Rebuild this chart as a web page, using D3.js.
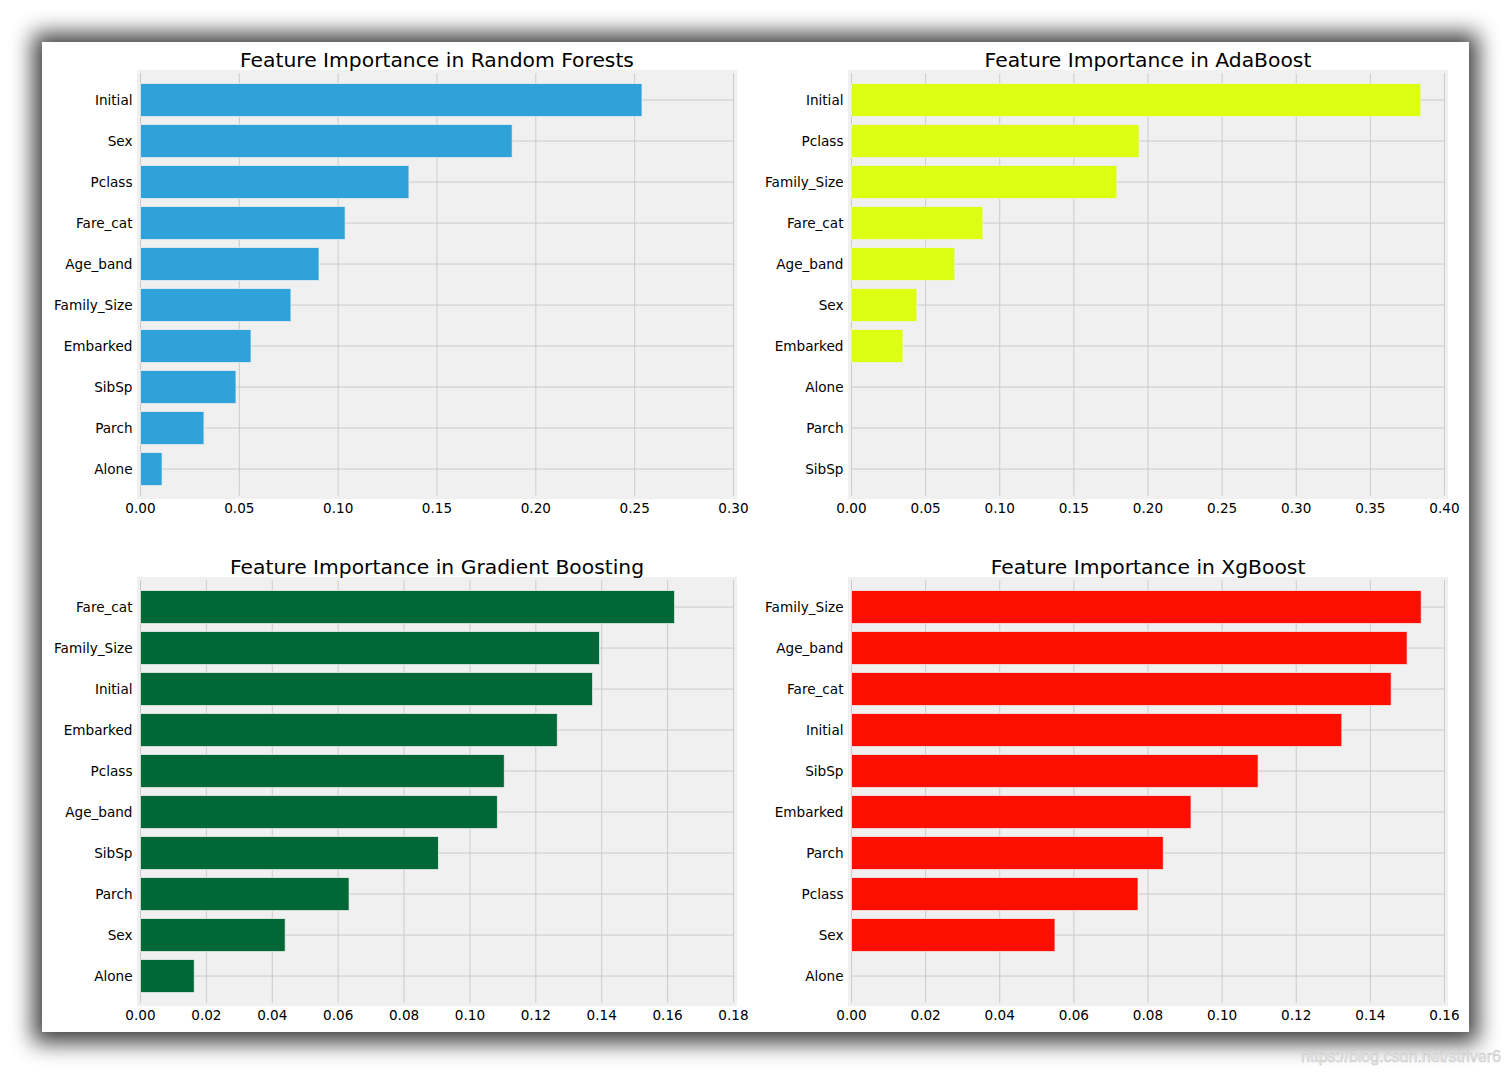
<!DOCTYPE html>
<html>
<head>
<meta charset="utf-8">
<script src="https://cdn.jsdelivr.net/npm/d3@7"></script>
<style>
  body { margin: 0; background: #ffffff; }
  svg { display: block; }
</style>
</head>
<body>
<script>
// feature importances (top bar first)
const rfFeatures = ['Initial', 'Sex', 'Pclass', 'Fare_cat', 'Age_band', 'Family_Size', 'Embarked', 'SibSp', 'Parch', 'Alone'];
const rfValues = [0.2537, 0.188, 0.1358, 0.1035, 0.0903, 0.0761, 0.0559, 0.0483, 0.0321, 0.0109];

const adaFeatures = ['Initial', 'Pclass', 'Family_Size', 'Fare_cat', 'Age_band', 'Sex', 'Embarked', 'Alone', 'Parch', 'SibSp'];
const adaValues = [0.384, 0.194, 0.179, 0.0886, 0.0697, 0.0441, 0.0347, 0, 0, 0];

const gbFeatures = ['Fare_cat', 'Family_Size', 'Initial', 'Embarked', 'Pclass', 'Age_band', 'SibSp', 'Parch', 'Sex', 'Alone'];
const gbValues = [0.1621, 0.1393, 0.1372, 0.1265, 0.1104, 0.1083, 0.0904, 0.0633, 0.0439, 0.0163];

const xgbFeatures = ['Family_Size', 'Age_band', 'Fare_cat', 'Initial', 'SibSp', 'Embarked', 'Parch', 'Pclass', 'Sex', 'Alone'];
const xgbValues = [0.1537, 0.1499, 0.1456, 0.1323, 0.1097, 0.0916, 0.0841, 0.0773, 0.0549, 0];

const rfTicks = [0, 0.05, 0.10, 0.15, 0.20, 0.25, 0.30];
const adaTicks = [0, 0.05, 0.10, 0.15, 0.20, 0.25, 0.30, 0.35, 0.40];
const gbTicks = [0, 0.02, 0.04, 0.06, 0.08, 0.10, 0.12, 0.14, 0.16, 0.18];
const xgbTicks = [0, 0.02, 0.04, 0.06, 0.08, 0.10, 0.12, 0.14, 0.16];

const width = 1511, height = 1075;

let svg = d3
  .select('body')
  .append('svg')
  .attr('width', width)
  .attr('height', height)
  .style('background-color', '#ffffff');

// shadow behind the card
const defs = svg.append('defs');
defs
  .append('filter')
  .attr('id', 'shadow')
  .attr('x', '-10%')
  .attr('y', '-10%')
  .attr('width', '120%')
  .attr('height', '120%')
  .append('feGaussianBlur')
  .attr('stdDeviation', 11);

svg
  .append('rect')
  .attr('x', 33)
  .attr('y', 33)
  .attr('width', 1445)
  .attr('height', 1010)
  .attr('fill', '#000')
  .attr('opacity', 0.75)
  .attr('filter', 'url(#shadow)');

svg
  .append('rect')
  .attr('x', 42)
  .attr('y', 42)
  .attr('width', 1427)
  .attr('height', 990)
  .attr('fill', '#ffffff');

const panels = [
  { title: 'Feature Importance in Random Forests', features: rfFeatures, values: rfValues, ticks: rfTicks, color: '#30a2da', x: 140.5, y: 73.4 },
  { title: 'Feature Importance in AdaBoost', features: adaFeatures, values: adaValues, ticks: adaTicks, color: '#ddff11', x: 851.5, y: 73.4 },
  { title: 'Feature Importance in Gradient Boosting', features: gbFeatures, values: gbValues, ticks: gbTicks, color: '#006837', x: 140.5, y: 580.4 },
  { title: 'Feature Importance in XgBoost', features: xgbFeatures, values: xgbValues, ticks: xgbTicks, color: '#fd0f00', x: 851.5, y: 580.4 }
];

const pw = 593, ph = 422.3;
const font = "'DejaVu Sans', sans-serif";

panels.forEach(function (p) {
  const g = svg.append('g').attr('transform', 'translate(' + p.x + ',' + p.y + ')');

  const x = d3.scaleLinear().domain([0, p.ticks[p.ticks.length - 1]]).range([0, pw]);
  // pandas barh: positions 0..9 bottom-up, limits -0.65 .. 9.65
  const y = d3.scaleLinear().domain([-0.65, 9.65]).range([ph, 0]);
  const n = p.features.length;
  const pos = (i) => n - 1 - i;

  // axes face (thick spine in face colour)
  g.append('rect')
    .attr('x', -3.5)
    .attr('y', -3.5)
    .attr('width', pw + 7)
    .attr('height', ph + 7)
    .attr('fill', '#f0f0f0');

  // grid
  g.append('g')
    .selectAll('line')
    .data(p.ticks)
    .enter()
    .append('line')
    .attr('x1', (d) => x(d))
    .attr('x2', (d) => x(d))
    .attr('y1', 0)
    .attr('y2', ph)
    .attr('stroke', '#cbcbcb')
    .attr('stroke-width', 1);

  g.append('g')
    .selectAll('line')
    .data(p.features)
    .enter()
    .append('line')
    .attr('x1', 0)
    .attr('x2', pw)
    .attr('y1', (d, i) => y(pos(i)))
    .attr('y2', (d, i) => y(pos(i)))
    .attr('stroke', '#cbcbcb')
    .attr('stroke-width', 1);

  // bars
  g.append('g')
    .selectAll('rect')
    .data(p.values)
    .enter()
    .filter((d) => d > 0)
    .append('rect')
    .attr('x', x(0))
    .attr('y', (d, i) => y(pos(i) + 0.4))
    .attr('width', (d) => x(d) - x(0))
    .attr('height', y(0) - y(0.8))
    .attr('fill', p.color)
    .attr('stroke', '#f0f0f0')
    .attr('stroke-width', 0.7);

  // y tick labels
  g.append('g')
    .selectAll('text')
    .data(p.features)
    .enter()
    .append('text')
    .attr('x', -8)
    .attr('y', (d, i) => y(pos(i)))
    .attr('dy', '0.35em')
    .attr('text-anchor', 'end')
    .style('font', '13.6px ' + font)
    .style('fill', '#000')
    .text((d) => d);

  // x tick labels
  g.append('g')
    .selectAll('text')
    .data(p.ticks)
    .enter()
    .append('text')
    .attr('x', (d) => x(d))
    .attr('y', ph + 17.5)
    .attr('text-anchor', 'middle')
    .style('font', '13.6px ' + font)
    .style('fill', '#000')
    .text((d) => d.toFixed(2));

  // title
  g.append('text')
    .attr('x', pw / 2)
    .attr('y', -6.5)
    .attr('text-anchor', 'middle')
    .style('font', '20.3px ' + font)
    .style('fill', '#000')
    .text(p.title);
});

// watermark
svg
  .append('text')
  .attr('x', 1501)
  .attr('y', 1062)
  .attr('text-anchor', 'end')
  .style('font', "16px 'Liberation Sans', Arial, sans-serif")
  .style('fill', '#ececec')
  .style('stroke', '#c4c4c4')
  .style('stroke-width', 0.5)
  .text('https://blog.csdn.net/striver6');
</script>
</body>
</html>
